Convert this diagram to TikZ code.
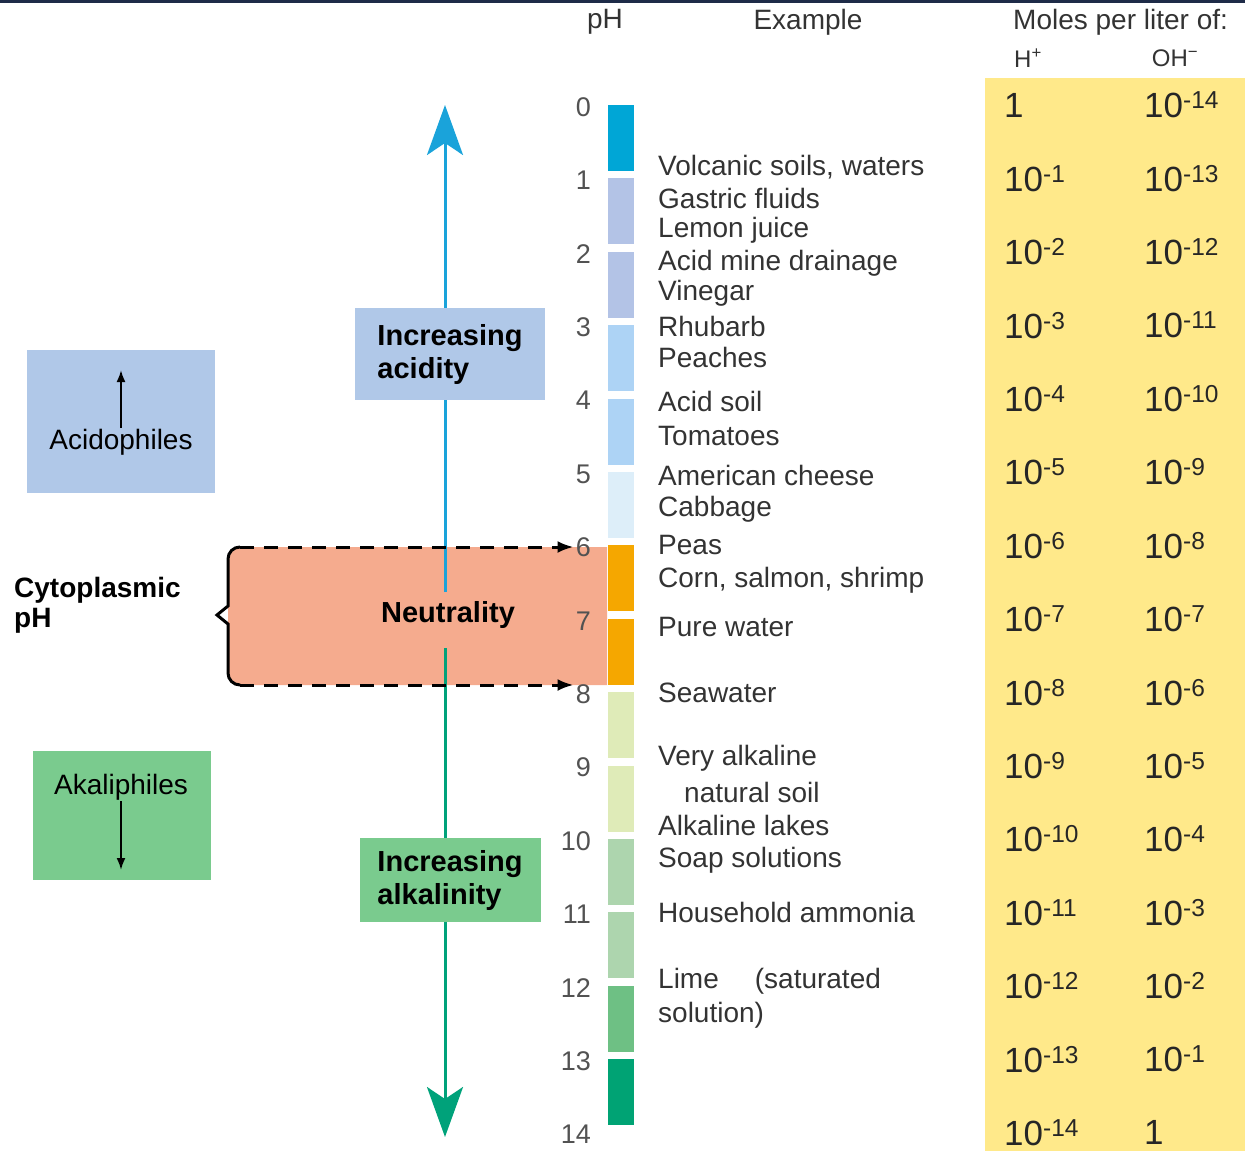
\documentclass[tikz,border=0pt]{standalone}
\usepackage{fontspec}
\setmainfont{Liberation Sans}
\usetikzlibrary{arrows.meta}
\definecolor{navyline}{HTML}{1E2B48}
\definecolor{acidblue}{HTML}{1AA3DA}
\definecolor{basegreen}{HTML}{00A27A}
\definecolor{boxblue}{HTML}{B0C8E8}
\definecolor{boxgreen}{HTML}{7ACB8E}
\definecolor{salmonfill}{HTML}{F5AB8E}
\definecolor{tableyellow}{HTML}{FFE98A}
\definecolor{textgray}{HTML}{333333}
\definecolor{bar0}{HTML}{00A6D6}
\definecolor{bar1}{HTML}{B3C3E6}
\definecolor{bar3}{HTML}{ADD3F5}
\definecolor{bar5}{HTML}{DDEEF9}
\definecolor{bar6}{HTML}{F5A700}
\definecolor{bar8}{HTML}{DFEBB8}
\definecolor{bar10}{HTML}{ADD5AE}
\definecolor{bar12}{HTML}{6EC084}
\definecolor{bar13}{HTML}{00A374}
\tikzset{
  header/.style={font=\fontsize{28}{30}\selectfont, text=textgray, inner sep=1pt},
  example/.style={anchor=west, font=\fontsize{28}{30}\selectfont, text=textgray, inner sep=1pt},
  phnum/.style={anchor=east, font=\fontsize{27}{29}\selectfont, text=textgray!85, inner sep=2pt},
  moles/.style={anchor=west, font=\fontsize{35}{37}\selectfont, text=black!85, inner sep=1pt},
  boldlabel/.style={font=\fontsize{29}{33}\selectfont\bfseries, align=left, inner sep=0pt},
  microbe/.style={font=\fontsize{28}{30}\selectfont, inner sep=1pt},
  bigtip/.style={-{Stealth[length=50pt,width=36pt,inset=12pt]}},
}
\begin{document}
\begin{tikzpicture}[x=1pt,y=-1pt]
\useasboundingbox (0,0) rectangle (1245,1151);
\fill[navyline] (0,0) rectangle (1245,3);
\fill[tableyellow] (985,78) rectangle (1245,1151);
% neutral band
\fill[salmonfill] (607,547) [rounded corners=10pt] -- (228,547) -- (228,685) [sharp corners] -- (607,685) -- cycle;
% pH scale
\foreach \n/\col in {0/bar0,1/bar1,2/bar1,3/bar3,4/bar3,5/bar5,6/bar6,7/bar6,8/bar8,9/bar8,10/bar10,11/bar10,12/bar12,13/bar13}
  \fill[\col] (608,{105+73.4*\n}) rectangle (634,{171+73.4*\n});
\foreach \n in {0,...,14}
  \node[phnum] (ph\n) at (593,{107+73.4*\n}) {\n};
% table of moles
\foreach \n in {0,...,14}{
  \pgfmathtruncatemacro{\m}{14-\n}
  \ifnum\n=0 \node[moles] (h\n) at (1003,{105+73.4*\n}) {1};
  \else \node[moles] (h\n) at (1003,{105+73.4*\n}) {10\textsuperscript{-\n}};\fi
  \ifnum\m=0 \node[moles] (oh\n) at (1143,{105+73.4*\n}) {1};
  \else \node[moles] (oh\n) at (1143,{105+73.4*\n}) {10\textsuperscript{-\m}};\fi
}
% headers
\node[header] (phhead) at (605,22) {pH};
\node[header] (exhead) at (808,22) {Example};
\node[header, anchor=west] (molhead) at (1012,22) {Moles per liter of:};
\node[header, font=\fontsize{24}{26}\selectfont] (hhead) at (1028,58) {H\textsuperscript{+}};
\node[header, font=\fontsize{24}{26}\selectfont] (ohhead) at (1175,58) {OH\textsuperscript{−}};
% examples
\node[example] (volc) at (657,167) {Volcanic soils, waters};
\node[example] (gast) at (657,198) {Gastric fluids};
\node[example] (lemon) at (657,230) {Lemon juice};
\node[example] (mine) at (657,263) {Acid mine drainage};
\node[example] (vine) at (657,293) {Vinegar};
\node[example] (rhub) at (657,326) {Rhubarb};
\node[example] (peach) at (657,357) {Peaches};
\node[example] (soil) at (657,401) {Acid soil};
\node[example] (tomat) at (657,436) {Tomatoes};
\node[example] (chees) at (657,475) {American cheese};
\node[example] (cabb) at (657,509) {Cabbage};
\node[example] (peas) at (657,545) {Peas};
\node[example] (corn) at (657,580) {Corn, salmon, shrimp};
\node[example] (water) at (657,627) {Pure water};
\node[example] (sea) at (657,693) {Seawater};
\node[example] (alk) at (657,758) {Very alkaline};
\node[example] (natsoil) at (683,792) {natural soil};
\node[example] (lakes) at (657,825) {Alkaline lakes};
\node[example] (soap) at (657,860) {Soap solutions};
\node[example] (ammo) at (657,912) {Household ammonia};
\node[example] (lime) at (657,981) {Lime\hspace{36pt}(saturated};
\node[example] (sol) at (657,1015) {solution)};
% direction arrows
\node[boldlabel, fill=boxblue, minimum width=190pt, minimum height=92pt] (acidity) at (450,354) {Increasing\\acidity};
\node[boldlabel, fill=boxgreen, minimum width=181pt, minimum height=84pt] (alkalinity) at (450,880) {Increasing\\alkalinity};
\node[boldlabel] (neutral) at (448,615) {Neutrality};
\draw[acidblue, line width=3pt, bigtip] (acidity.north -| 445,0) -- (445,105);
\draw[acidblue, line width=3pt] (445,592) -- (acidity.south -| 445,0);
\draw[basegreen, line width=3pt] (445,648) -- (alkalinity.north -| 445,0);
\draw[basegreen, line width=3pt, bigtip] (alkalinity.south -| 445,0) -- (445,1137);
% cytoplasmic range
\draw[line width=3pt] (240,547) to[out=180,in=90] (228,559) -- (228,606) -- (217,615) -- (228,624) -- (228,673) to[out=-90,in=180] (240,685);
\draw[line width=3pt, dash pattern=on 14pt off 10pt, -{Latex[length=16pt,width=12pt]}] (240,547) -- (ph6.west |- 0,547);
\draw[line width=3pt, dash pattern=on 14pt off 10pt, -{Latex[length=16pt,width=12pt]}] (240,685) -- (ph8.west |- 0,685);
\node[boldlabel, anchor=west, font=\fontsize{28}{30}\selectfont\bfseries] (cyto) at (14,605) {Cytoplasmic\\pH};
% microbes
\node[fill=boxblue, minimum width=188pt, minimum height=143pt] (acidbox) at (121,421) {};
\node[microbe] (acidophil) at (121,442) {Acidophiles};
\draw[line width=2pt, -{Latex[length=12pt,width=9pt]}] (acidophil.north) -- (121,370);
\node[fill=boxgreen, minimum width=178pt, minimum height=129pt] (alkbox) at (122,815) {};
\node[microbe] (alkaliphil) at (121,787) {Akaliphiles};
\draw[line width=2pt, -{Latex[length=12pt,width=9pt]}] (alkaliphil.south) -- (121,870);
\end{tikzpicture}
\end{document}
